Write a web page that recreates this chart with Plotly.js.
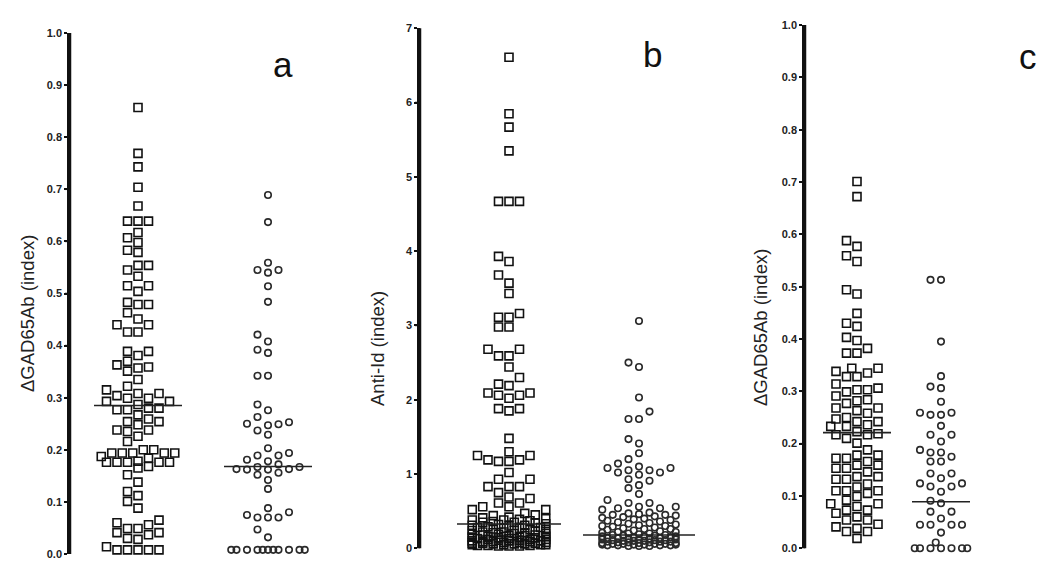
<!DOCTYPE html>
<html><head><meta charset="utf-8">
<script src="https://cdn.plot.ly/plotly-3.0.1.min.js"></script>
<style>html,body{margin:0;padding:0;background:#fff}#chart{width:1050px;height:579px}</style>
</head><body><div id="chart"></div>
<script>
// ---------- data ----------
const panelLabels = ['a', 'b', 'c'];
const yTitles = ['\u0394GAD65Ab (index)', 'Anti-Id (index)', '\u0394GAD65Ab (index)'];

const aSquares = [0.857,0.769,0.743,0.704,0.668,0.639,0.639,0.639,0.617,0.607,0.598,0.583,0.579,0.554,0.554,0.545,0.533,0.515,0.515,0.504,
  0.483,0.479,0.479,0.463,0.451,0.440,0.440,0.426,0.426,0.389,0.389,0.381,0.370,0.363,0.359,0.357,0.351,0.335,0.322,0.315,0.308,0.308,0.304,
  0.299,0.299,0.293,0.293,0.287,0.280,0.280,0.277,0.277,0.267,0.259,0.254,0.254,0.248,0.238,0.238,0.235,0.226,0.216,0.200,0.200,
  0.194,0.194,0.194,0.194,0.194,0.187,0.184,0.178,0.176,0.176,0.176,0.176,0.176,0.168,0.165,0.152,0.138,0.120,0.112,0.101,0.088,
  0.065,0.060,0.056,0.049,0.049,0.041,0.041,0.037,0.030,0.028,0.014,0.008,0.008,0.008,0.008,0.008];
const aCircles = [0.689,0.637,0.559,0.545,0.545,0.540,0.514,0.484,0.421,0.408,0.392,0.386,0.342,0.342,0.287,0.276,0.263,0.253,0.250,0.249,
  0.247,0.237,0.229,0.203,0.194,0.189,0.189,0.181,0.178,0.172,0.167,0.167,0.163,0.163,0.162,0.162,0.156,0.152,0.142,0.125,0.088,0.080,
  0.075,0.070,0.070,0.070,0.047,0.032,0.008,0.008,0.008,0.008,0.008,0.008,0.008,0.008,0.008,0.008,0.008];
const aMedians = [0.285, 0.168];

const bSquares = [6.61,5.85,5.67,5.35,4.67,4.67,4.67,3.93,3.86,3.68,3.57,3.43,3.16,3.11,3.11,2.98,2.98,2.68,2.68,2.59,2.59,2.44,2.30,2.21,
  2.19,2.09,2.09,2.06,2.06,2.02,1.88,1.88,1.85,1.48,1.30,1.25,1.25,1.19,1.19,1.17,1.17,1.02,0.93,0.93,0.83,0.83,0.83,0.75,0.69,0.67,
  0.61,0.61,0.56,0.56,0.52,0.52,0.47,0.45,0.44,0.42,0.41,0.40,0.39,0.38,0.38,0.37,0.36,0.35,0.35,0.34,0.33,0.32,0.31,0.31,0.30,0.29,
  0.28,0.28,0.27,0.26,0.25,0.25,0.24,0.23,0.22,0.22,0.21,0.20,0.20,0.19,0.18,0.18,0.17,0.16,0.16,0.15,0.14,0.14,0.13,0.12,0.12,0.11,
  0.11,0.10,0.10,0.09,0.09,0.08,0.08,0.07,0.07,0.06,0.06,0.05,0.05,0.05,0.04,0.04,
  0.27,0.24,0.21,0.19,0.17,0.15,0.13,0.12,0.10,0.09,0.08,0.07,0.06,0.05,0.04,0.03,0.03,0.03];
const bCircles = [3.06,2.50,2.44,2.03,1.84,1.74,1.74,1.47,1.41,1.28,1.20,1.14,1.10,1.08,1.08,1.05,1.05,1.02,1.02,0.99,0.93,0.91,0.85,
  0.81,0.73,0.65,0.61,0.61,0.56,0.56,0.54,0.54,0.52,0.48,0.47,0.46,0.45,0.45,0.44,0.43,0.42,0.41,0.40,0.39,0.38,0.37,0.36,0.35,0.34,
  0.33,0.32,0.31,0.30,0.30,0.29,0.28,0.27,0.26,0.26,0.25,0.24,0.23,0.22,0.22,0.21,0.20,0.20,0.19,0.18,0.18,0.17,0.17,0.16,0.16,0.15,
  0.15,0.14,0.14,0.13,0.13,0.12,0.12,0.11,0.11,0.10,0.10,0.10,0.09,0.09,0.08,0.08,0.08,0.07,0.07,0.06,0.06,0.06,0.05,0.05,0.05,0.04,
  0.04,0.04,0.03,0.03,0.16,0.14,0.12,0.11,0.09,0.07,0.06,0.05,0.04,0.03];
const bMedians = [0.327, 0.18];

const cSquares = [0.701,0.672,0.588,0.577,0.559,0.548,0.494,0.486,0.449,0.430,0.424,0.403,0.397,0.382,0.373,0.373,0.344,0.344,0.338,
  0.335,0.328,0.328,0.314,0.306,0.303,0.303,0.299,0.291,0.284,0.282,0.277,0.268,0.268,0.263,0.258,0.250,0.247,0.242,0.242,0.236,0.233,
  0.233,0.223,0.219,0.217,0.217,0.210,0.201,0.188,0.178,0.178,0.172,0.172,0.166,0.159,0.159,0.153,0.153,0.146,0.137,0.137,0.132,0.132,
  0.123,0.117,0.110,0.110,0.110,0.105,0.099,0.092,0.085,0.085,0.080,0.073,0.073,0.067,0.060,0.054,0.054,0.046,0.041,0.038,0.032,0.032,0.019];
const cCircles = [0.513,0.513,0.395,0.329,0.309,0.306,0.280,0.259,0.259,0.255,0.255,0.234,0.217,0.217,0.204,0.188,0.183,0.183,0.175,
  0.166,0.166,0.143,0.143,0.134,0.124,0.124,0.118,0.118,0.108,0.091,0.086,0.070,0.070,0.057,0.045,0.045,0.045,0.045,0.030,0.011,
  0.0,0.0,0.0,0.0,0.0,0.0,0.0];
const cMedians = [0.221, 0.089];

const yTickVals = [[0,0.1,0.2,0.3,0.4,0.5,0.6,0.7,0.8,0.9,1.0],[0,1,2,3,4,5,6,7],[0,0.1,0.2,0.3,0.4,0.5,0.6,0.7,0.8,0.9,1.0]];
const yTickText = [['0.0','0.1','0.2','0.3','0.4','0.5','0.6','0.7','0.8','0.9','1.0'],['0','1','2','3','4','5','6','7'],
  ['0.0','0.1','0.2','0.3','0.4','0.5','0.6','0.7','0.8','0.9','1.0']];

// ---------- layout geometry (pixels) ----------
const W = 1050, H = 579;
const panels = [
  {sq: aSquares, ci: aCircles, med: aMedians, axisX: 70, rightX: 330, y0: 554, y1: 33, yr: [0,1], c0: 138, c1: 268, half: [44,44], K: [3,3],
   label: [283, 64], title: [27, 314]},
  {sq: bSquares, ci: bCircles, med: bMedians, axisX: 420, rightX: 710, y0: 548.3, y1: 28.3, yr: [0,7], c0: 509, c1: 639, half: [52,56], K: [3,3],
   label: [652, 55], title: [377, 349]},
  {sq: cSquares, ci: cCircles, med: cMedians, axisX: 805, rightX: 1045, y0: 548.3, y1: 25, yr: [0,1], c0: 857, c1: 941, half: [34,29], K: [2,2],
   label: [1028, 56], title: [760, 328]}
];
const colPx = 10.5;

// simple column beeswarm (Prism style): returns x offsets in pixels
function swarm(vals, pxPerY, K, dx, dy) {
  const order = vals.map((v, i) => i).sort((a, b) => vals[a] - vals[b]);
  const cands = [0];
  for (let k = 1; k <= K; k++) cands.push(-k, k);
  for (let k = 0.5; k <= K + 0.5; k += 1) cands.push(-k, k);
  const placed = [], off = new Array(vals.length);
  for (const i of order) {
    const y = vals[i] * pxPerY;
    let best = 0, bestScore = Infinity;
    for (const c of cands) {
      const x = c * colPx;
      let s = 0;
      for (const p of placed) {
        const ox = dx - Math.abs(p.x - x), oy = dy - Math.abs(p.y - y);
        if (ox > 0 && oy > 0) s += ox * oy;
      }
      if (s < bestScore - 1e-9) { bestScore = s; best = c; }
      if (s === 0) break;
    }
    placed.push({x: best * colPx, y});
    off[i] = best * colPx;
  }
  return off;
}

const data = [], layout = {
  width: W, height: H, margin: {l: 0, r: 0, t: 0, b: 0, pad: 0}, paper_bgcolor: '#fff', plot_bgcolor: '#fff',
  showlegend: false, annotations: [], shapes: []
};
const font = 'Liberation Sans, Arial, sans-serif';

panels.forEach((p, k) => {
  const n = k === 0 ? '' : String(k + 1);
  const unit = p.c1 - p.c0;
  const pxPerY = (p.y0 - p.y1) / (p.yr[1] - p.yr[0]);
  layout['xaxis' + n] = {
    domain: [p.axisX / W, p.rightX / W], range: [(p.axisX - p.c0) / unit, (p.rightX - p.c0) / unit],
    showline: false, showgrid: false, zeroline: false, showticklabels: false, ticks: '', anchor: 'y' + n
  };
  layout['yaxis' + n] = {
    domain: [(H - p.y0) / H, (H - p.y1) / H], range: p.yr, anchor: 'x' + n, side: 'left',
    showline: true, linewidth: 2.5, linecolor: '#111',
    ticks: 'outside', ticklen: 3, tickwidth: 1.5, tickcolor: '#111',
    tickmode: 'array', tickvals: yTickVals[k], ticktext: yTickText[k],
    tickfont: {family: font, size: 11, color: '#222', weight: 700},
    showgrid: false, zeroline: false
  };
  // axis spine and tick marks
  layout.shapes.push({type: 'line', xref: 'x' + n + ' domain', yref: 'y' + n + ' domain', x0: 0, x1: 0, y0: 0, y1: 1,
    line: {color: '#111', width: 2.5}, layer: 'above'});
  const tl = 5 / (p.rightX - p.axisX);
  yTickVals[k].forEach(v => layout.shapes.push({type: 'line', xref: 'x' + n + ' domain', yref: 'y' + n,
    x0: -tl, x1: 0, y0: v, y1: v, line: {color: '#111', width: 1.5}, layer: 'above'}));
  const groups = [
    {vals: p.sq, sym: 'square-open', size: 8, dx: 9.5, dy: 9.5, color: '#111', K: p.K[0]},
    {vals: p.ci, sym: 'circle-open', size: 6.5, dx: 8.5, dy: 8.5, color: '#2a2a2a', K: p.K[1]}
  ];
  groups.forEach((g, gi) => {
    const off = swarm(g.vals, pxPerY, g.K, g.dx, g.dy);
    data.push({
      type: 'scatter', mode: 'markers', xaxis: 'x' + n, yaxis: 'y' + n, cliponaxis: false,
      x: g.vals.map((v, i) => gi + off[i] / unit), y: g.vals,
      marker: {symbol: g.sym, size: g.size, color: g.color, line: {width: 1.6, color: g.color}},
      hoverinfo: 'y'
    });
    const hw = p.half[gi] / unit;
    data.push({
      type: 'scatter', mode: 'lines', xaxis: 'x' + n, yaxis: 'y' + n, cliponaxis: false,
      x: [gi - hw, gi + hw], y: [p.med[gi], p.med[gi]],
      line: {color: '#222', width: 1.6}, hoverinfo: 'skip'
    });
  });
  layout.annotations.push({
    xref: 'paper', yref: 'paper', x: p.label[0] / W, y: 1 - p.label[1] / H, xanchor: 'center', yanchor: 'middle',
    text: panelLabels[k], showarrow: false, font: {family: font, size: 35, color: '#111'}
  });
  layout.annotations.push({
    xref: 'paper', yref: 'paper', x: p.title[0] / W, y: 1 - p.title[1] / H, xanchor: 'center', yanchor: 'middle',
    text: yTitles[k], textangle: -90, showarrow: false, font: {family: font, size: 18.5, color: '#222'}
  });
});

Plotly.newPlot('chart', data, layout, {displayModeBar: false});
</script></body></html>
